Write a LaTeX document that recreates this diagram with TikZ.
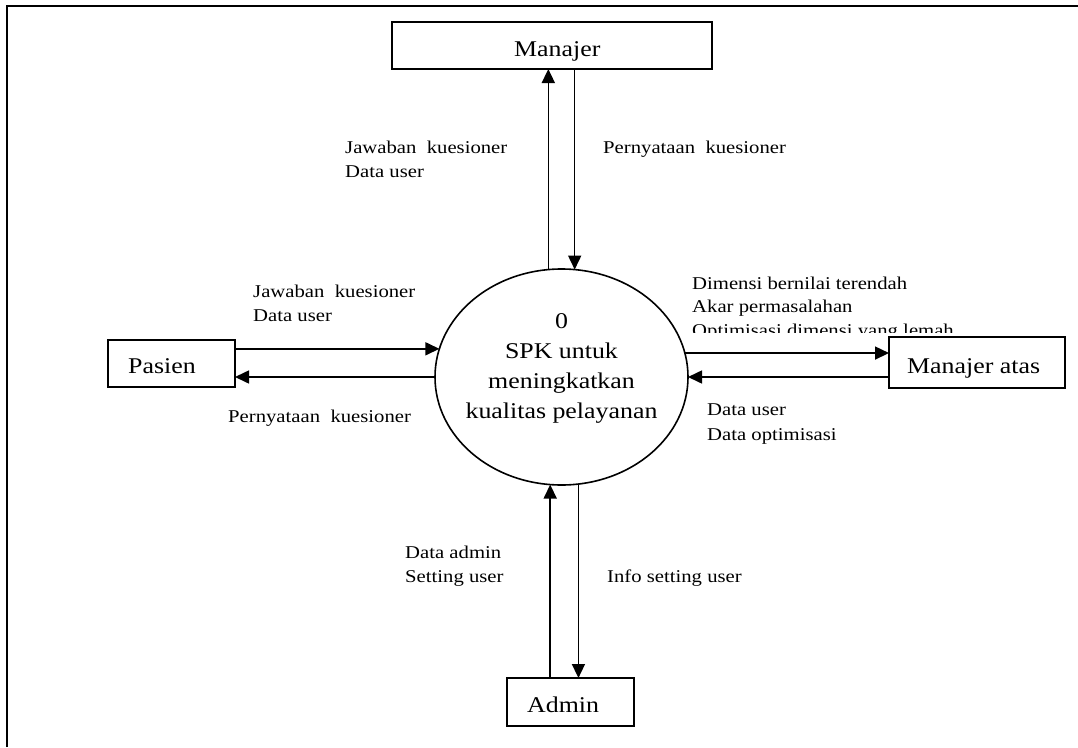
\documentclass[tikz,border=0pt]{standalone}
\usepackage{fontspec}
\setmainfont[FakeStretch=1.15]{Liberation Serif}
\usetikzlibrary{arrows.meta,shapes.geometric}
\tikzset{
  box/.style={draw, line width=1.6pt, rectangle, inner sep=0pt, outer sep=0pt},
  proc/.style={draw, line width=1.6pt, ellipse, inner sep=0pt, outer sep=0pt, minimum width=253pt, minimum height=216pt},
  flow/.style={line width=1.6pt, -{Triangle[length=14pt,width=13pt]}},
  lbl/.style={anchor=base west, inner sep=0pt, font=\fontsize{18}{22}\selectfont},
  big/.style={anchor=base, inner sep=0pt, font=\fontsize{22.5}{27}\selectfont},
  bigw/.style={anchor=base west, inner sep=0pt, font=\fontsize{22.5}{27}\selectfont}
}
\begin{document}
\begin{tikzpicture}[x=1pt,y=-1pt]
\useasboundingbox (0,0) rectangle (1078,747);
% outer frame
\draw[line width=2.2pt] (7,747) -- (7,6) -- (1078,6);

% process
\node[proc] (ell) at (561.5,377) {};
\node[big] (t0) at (561.5,328) {0};
\node[big] (t1) at (561.5,358) {SPK untuk};
\node[big] (t2) at (561.5,388) {meningkatkan};
\node[big] (t3) at (561.5,418) {kualitas pelayanan};

% entities
\node[box, minimum width=320pt, minimum height=47pt] (man) at (552,45.5) {};
\node[bigw] (mant) at (514,56) {Manajer};
\node[box, minimum width=127pt, minimum height=47pt] (pas) at (171.5,363.5) {};
\node[bigw] (past) at (128,373) {Pasien};
\node[box, minimum width=176pt, minimum height=51pt] (ma) at (977,362.5) {};
\node[bigw] (mat) at (907,373) {Manajer atas};
\node[box, minimum width=127pt, minimum height=48pt] (adm) at (570.5,702) {};
\node[bigw] (admt) at (527,712) {Admin};

% flows
\draw[flow] (ell.97.9) -- (ell.97.9 |- man.south);
\draw[flow] (ell.83.7 |- man.south) -- (ell.83.7);
\draw[flow] (pas.east |- ell.167.1) -- (ell.167.1);
\draw[flow] (ell.west) -- (ell.west -| pas.east);
\draw[flow] (ell.11.95) -- (ell.11.95 -| ma.west);
\draw[flow] (ell.east -| ma.west) -- (ell.east);
\draw[flow] (ell.264.8 |- adm.north) -- (ell.264.8);
\draw[flow] (ell.279.3) -- (ell.279.3 |- adm.north);

% labels
\node[lbl] (l1a) at (345,153) {Jawaban~ kuesioner};
\node[lbl] (l1b) at (345,177) {Data user};
\node[lbl] (l2) at (603,153) {Pernyataan~ kuesioner};
\node[lbl] (l3a) at (253,297) {Jawaban~ kuesioner};
\node[lbl] (l3b) at (253,321.5) {Data user};
\node[lbl] (l4) at (228,422) {Pernyataan~ kuesioner};
\node[lbl] (l5a) at (692,289) {Dimensi bernilai terendah};
\node[lbl] (l5b) at (692,312.5) {Akar permasalahan};
\begin{scope}
\clip (600,0) rectangle (1078,332);
\node[lbl] (l5c) at (692,336) {Optimisasi dimensi yang lemah};
\end{scope}
\node[lbl] (l6a) at (707,415) {Data user};
\node[lbl] (l6b) at (707,440) {Data optimisasi};
\node[lbl] (l7a) at (405,558) {Data admin};
\node[lbl] (l7b) at (405,582) {Setting user};
\node[lbl] (l8) at (607,582) {Info setting user};
\end{tikzpicture}
\end{document}
